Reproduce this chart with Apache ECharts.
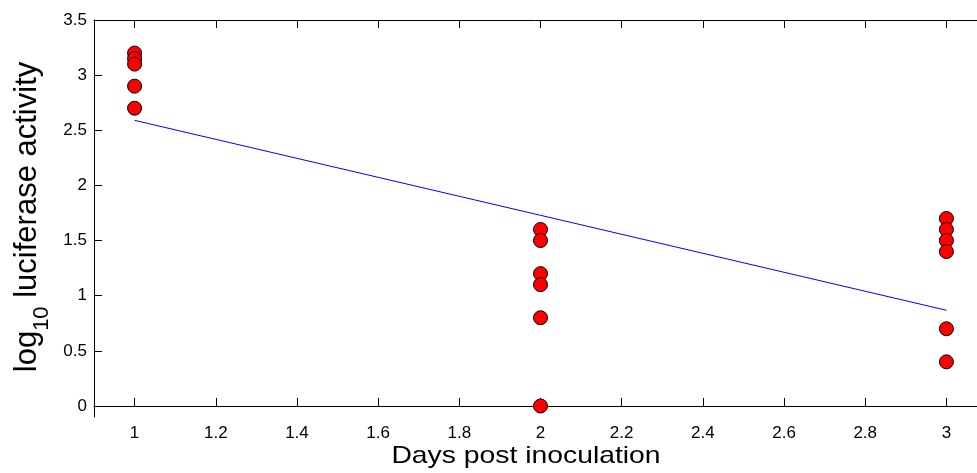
<!DOCTYPE html>
<html>
<head>
<meta charset="utf-8">
<script src="https://cdn.jsdelivr.net/npm/echarts@6/dist/echarts.min.js"></script>
<style>
html,body{margin:0;padding:0;background:#fff;}
#chart{width:977px;height:473px;}
</style>
</head>
<body>
<div id="chart"></div>
<script>
// Data
const day1 = [3.2, 3.15, 3.1, 2.9, 2.7];
const day2 = [1.6, 1.5, 1.2, 1.1, 0.8, 0.0];
const day3 = [1.7, 1.6, 1.5, 1.4, 0.7, 0.4];
const fitX = [1, 3];
const fitY = [2.59, 0.868];
const xTicks = [1, 1.2, 1.4, 1.6, 1.8, 2, 2.2, 2.4, 2.6, 2.8, 3];
const yTicks = [0, 0.5, 1, 1.5, 2, 2.5, 3, 3.5];
const xTitle = 'Days post inoculation';
const yTitleParts = ['log', '10', ' luciferase activity'];

const points = [];
day1.forEach(v => points.push([1, v]));
day2.forEach(v => points.push([2, v]));
day3.forEach(v => points.push([3, v]));
const fitLine = fitX.map((x, i) => [x, fitY[i]]);

const fmt = v => String(Math.round(v * 100) / 100);
const FONT = 'Liberation Sans, Arial, sans-serif';

const chart = echarts.init(document.getElementById('chart'), null, {renderer: 'canvas'});
chart.setOption({
  animation: false,
  backgroundColor: '#fff',
  grid: {left: 94, top: 20, right: -10, bottom: 56, containLabel: false, outerBoundsMode: 'none'},
  graphic: [{
    type: 'text', x: 526, y: 456, scaleX: 1.18, z: 10,
    style: {text: xTitle, font: '24px ' + FONT, fill: '#000', align: 'center', verticalAlign: 'middle'}
  }, {
    type: 'text', x: 32, y: 217, rotation: Math.PI / 2, z: 10,
    style: {
      text: '{a|' + yTitleParts[0] + '}{b|' + yTitleParts[1] + '}{a|' + yTitleParts[2] + '}',
      align: 'center', verticalAlign: 'middle', fill: '#000',
      rich: {
        a: {fontFamily: FONT, fontSize: 31, fill: '#000', lineHeight: 41, verticalAlign: 'top'},
        b: {fontFamily: FONT, fontSize: 22, fill: '#000', lineHeight: 41, verticalAlign: 'bottom'}
      }
    }
  }],
  xAxis: [{
    type: 'value', min: 0.9, max: 3.1, position: 'bottom',
    axisLine: {show: true, lineStyle: {color: '#000', width: 1}},
    axisTick: {show: true, inside: true, length: 8, customValues: xTicks, lineStyle: {color: '#000'}},
    axisLabel: {show: true, customValues: xTicks, formatter: fmt, margin: 8, fontFamily: FONT, fontSize: 17, color: '#000'},
    splitLine: {show: false}
  }, {
    type: 'value', min: 0.9, max: 3.1, position: 'top',
    axisLine: {show: true, onZero: false, lineStyle: {color: '#000', width: 1}},
    axisTick: {show: true, inside: true, length: 8, customValues: xTicks, lineStyle: {color: '#000'}},
    axisLabel: {show: false},
    splitLine: {show: false}
  }],
  yAxis: [{
    type: 'value', min: -0.1, max: 3.5,
    axisLine: {show: true, onZero: false, lineStyle: {color: '#000', width: 1}},
    axisTick: {show: true, inside: true, length: 8, customValues: yTicks, lineStyle: {color: '#000'}},
    axisLabel: {show: true, customValues: yTicks, formatter: fmt, margin: 7, fontFamily: FONT, fontSize: 17, color: '#000'},
    splitLine: {show: false}
  }],
  series: [{
    type: 'line', data: fitLine, xAxisIndex: 0, showSymbol: false, symbol: 'none',
    lineStyle: {color: '#0000ff', width: 1}, z: 2
  }, {
    type: 'scatter', data: points, xAxisIndex: 0, symbol: 'circle', symbolSize: 14,
    itemStyle: {color: '#ff0000', borderColor: '#000', borderWidth: 1, opacity: 1}, z: 3
  }]
});
</script>
</body>
</html>
